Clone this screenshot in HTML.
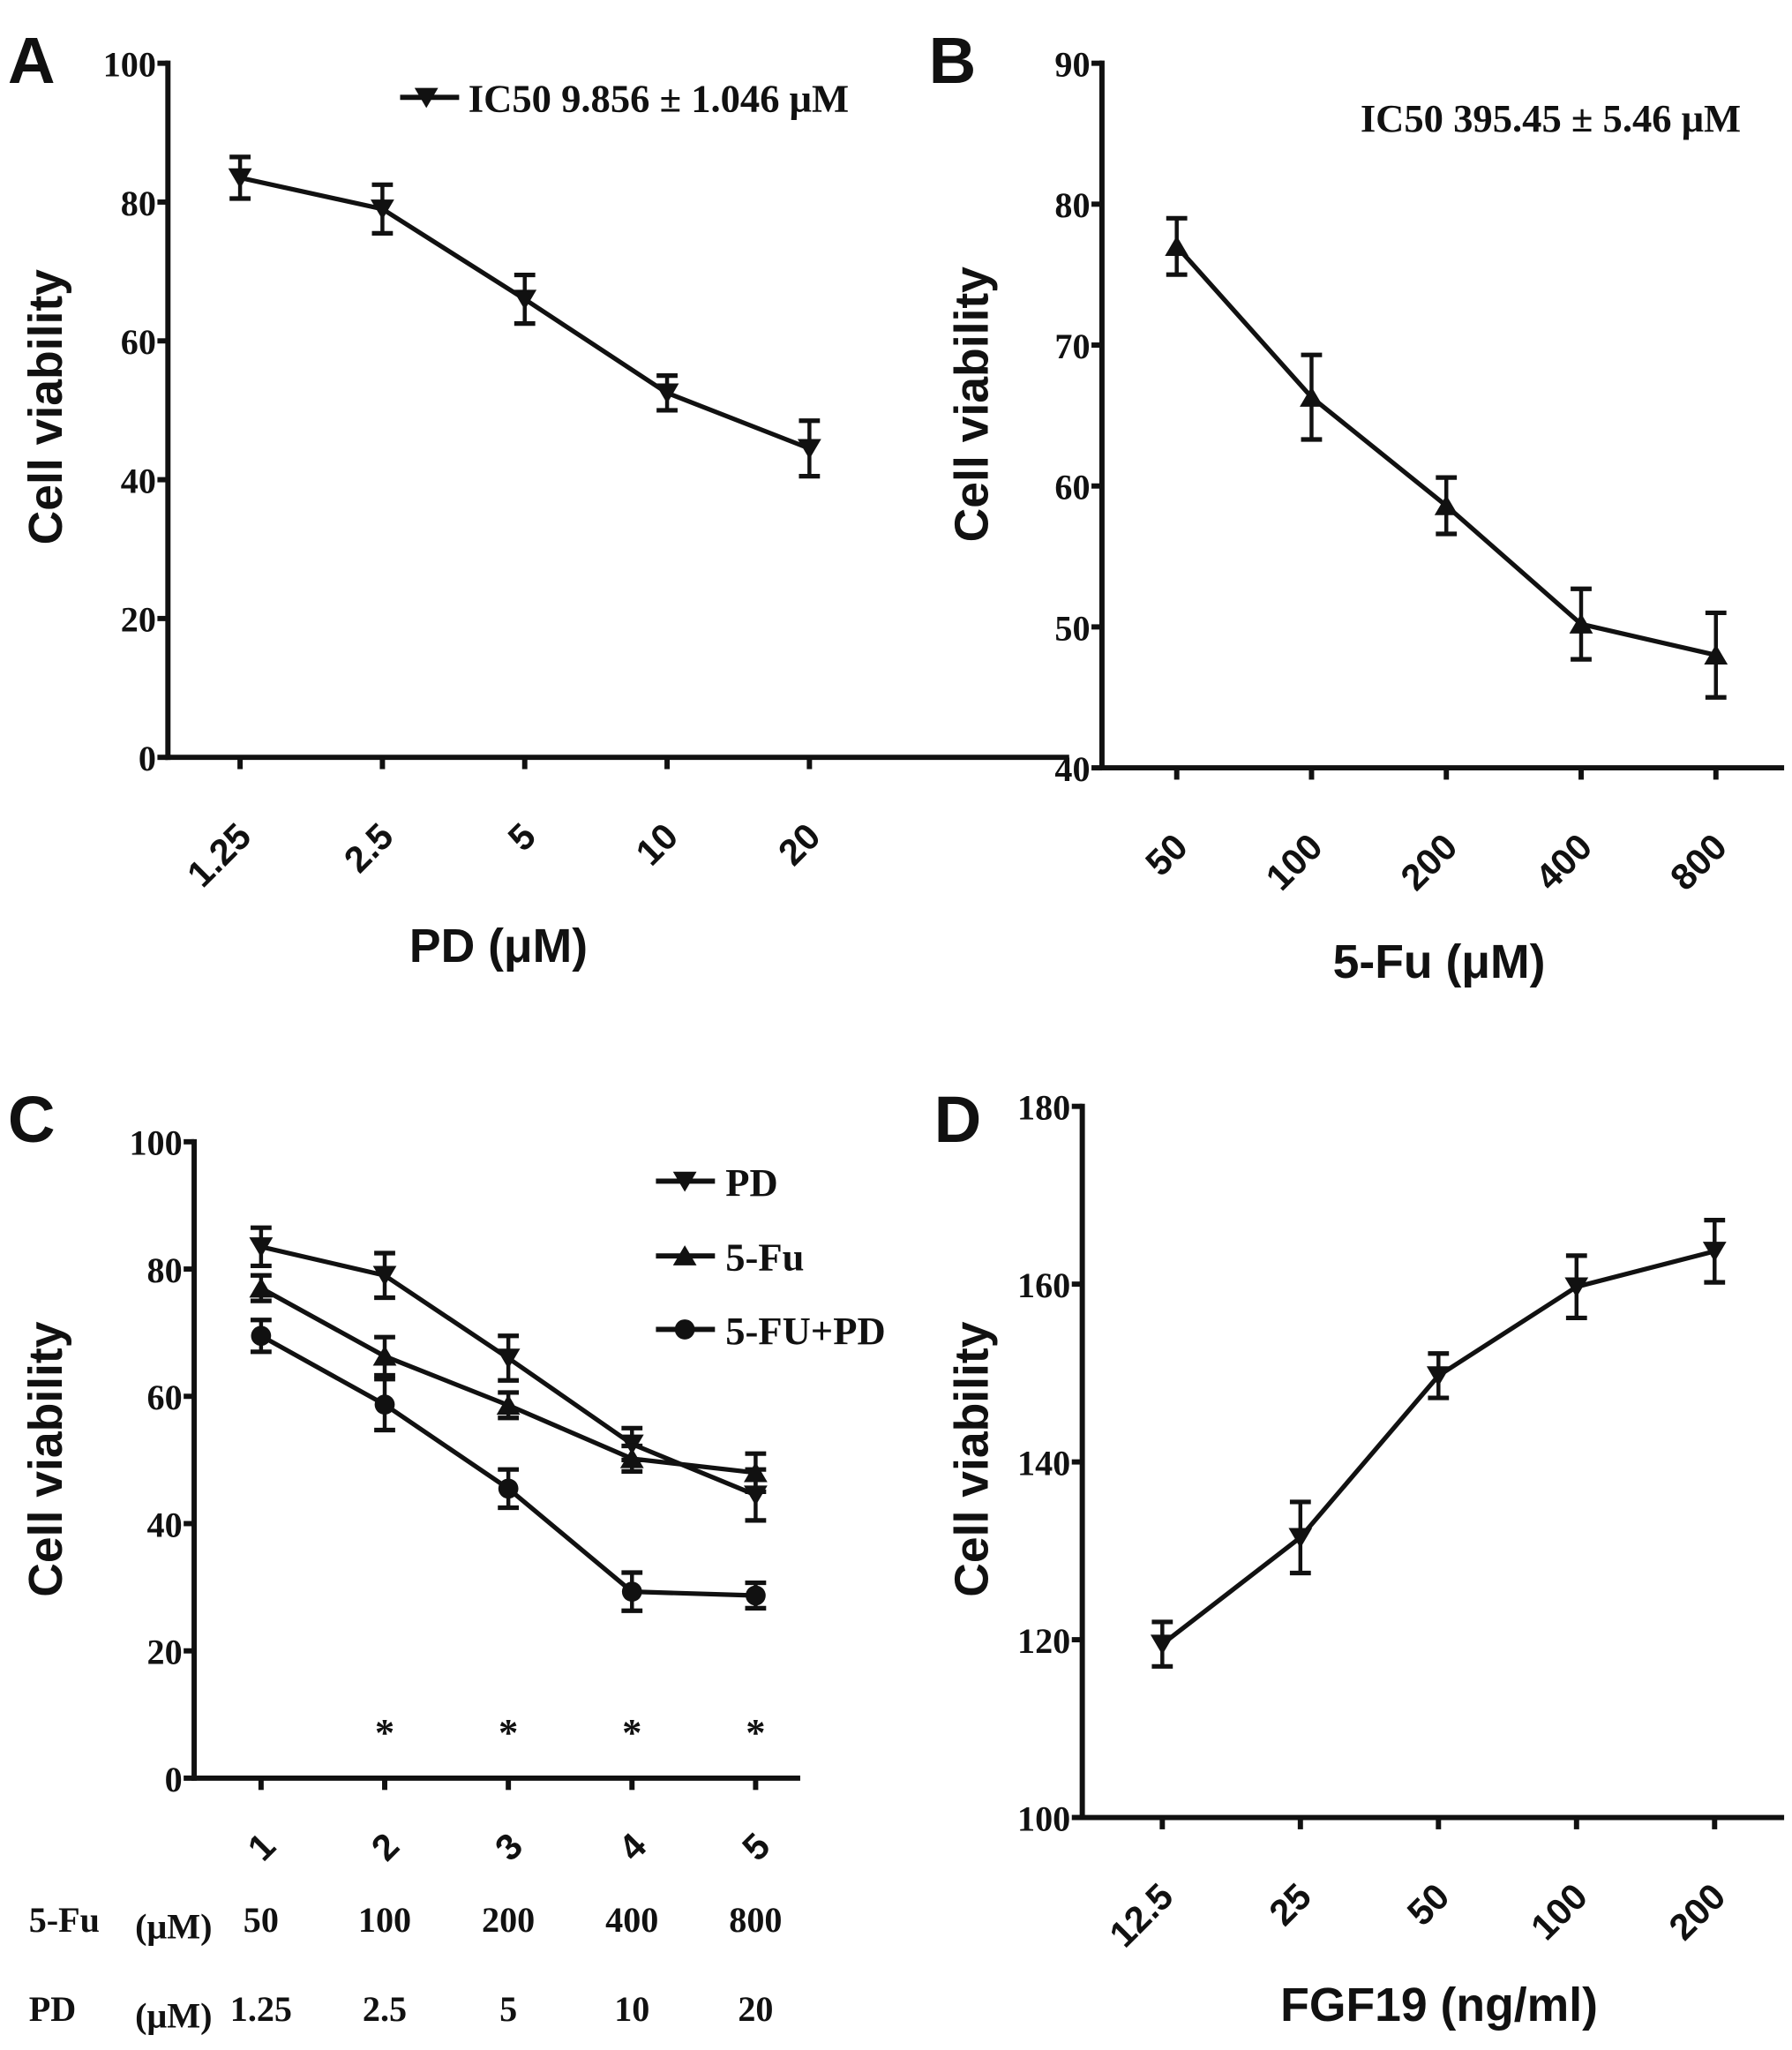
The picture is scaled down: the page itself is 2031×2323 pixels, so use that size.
<!DOCTYPE html>
<html><head><meta charset="utf-8"><style>
html,body{margin:0;padding:0;background:#fff}
svg{display:block}
.tk{font-family:"Liberation Serif",serif;font-weight:bold;font-size:27px;fill:#111}
.rk{font-family:"Liberation Sans",sans-serif;font-weight:bold;font-size:28px;fill:#111}
.tt{font-family:"Liberation Sans",sans-serif;font-weight:bold;font-size:36px;fill:#111}
.pl{font-family:"Liberation Sans",sans-serif;font-weight:bold;font-size:50px;fill:#111}
.lg{font-family:"Liberation Serif",serif;font-weight:bold;font-size:30px;fill:#111}
</style></head><body>
<svg id="fig" width="2031" height="2323" viewBox="0 0 1366 1562" xmlns="http://www.w3.org/2000/svg"></svg>
<script>
const aCats = ["1.25","2.5","5","10","20"];
const aVals = [83.5,79,66,52.5,44.5];
const aErr = [3,3.5,3.5,2.5,4];
const aTicks = [0,20,40,60,80,100];
const bCats = ["50","100","200","400","800"];
const bVals = [77,66.3,58.6,50.2,48];
const bErr = [2,3,2,2.5,3];
const bTicks = [40,50,60,70,80,90];
const cCats = ["1","2","3","4","5"];
const cPD = [83.5,79,66,52.5,44.5];
const cPDErr = [3,3.5,3.5,2.5,4];
const cFu = [77,66.3,58.6,50.2,48];
const cFuErr = [2,3,2,2,3];
const cCombo = [69.5,58.7,45.5,29.3,28.7];
const cComboErr = [2.5,4,3,3,2];
const cTicks = [0,20,40,60,80,100];
const cFuConc = ["50","100","200","400","800"];
const cPDConc = ["1.25","2.5","5","10","20"];
const cSig = [false,true,true,true,true];
const dCats = ["12.5","25","50","100","200"];
const dVals = [119.5,131.5,149.7,159.7,163.7];
const dErr = [2.5,4,2.5,3.5,3.5];
const dTicks = [100,120,140,160,180];

const NS="http://www.w3.org/2000/svg";
const svg=document.getElementById('fig');
function mk(tag,attrs,parent,text){const e=document.createElementNS(NS,tag);for(const k in attrs)e.setAttribute(k,attrs[k]);if(text!==undefined)e.textContent=text;(parent||svg).appendChild(e);return e;}

function marker(g,type,x,y,s){
  let e;
  if(type==='down') e=mk('polygon',{points:`${x-s},${y-s*0.8} ${x+s},${y-s*0.8} ${x},${y+s*0.9}`,fill:'#111'},g);
  else if(type==='up') e=mk('polygon',{points:`${x-s},${y+s*0.8} ${x+s},${y+s*0.8} ${x},${y-s*0.9}`,fill:'#111'},g);
  else e=mk('circle',{cx:x,cy:y,r:s*0.85,fill:'#111'},g);
  return e;
}

function panel(p){
  const g=mk('g',{});
  
  
  const y=v=>p.y0+(v-p.vmin)/(p.vmax-p.vmin)*(p.y1-p.y0);
  const x=i=>p.xs0+i*(p.xs1-p.xs0)/(p.cats.length-1);
  const ya=mk('line',{x1:p.ax,y1:y(p.vmax)-2,x2:p.ax,y2:y(p.vmin)+2,stroke:'#111','stroke-width':4},g);
  
  const xa=mk('line',{x1:p.ax-2,y1:y(p.vmin),x2:p.axEnd,y2:y(p.vmin),stroke:'#111','stroke-width':4},g);
  
  p.ticks.forEach(t=>{
    mk('line',{x1:p.ax-8,y1:y(t),x2:p.ax,y2:y(t),stroke:'#111','stroke-width':4},g);
    const tl=mk('text',{x:p.ax-9,y:y(t)+10,'text-anchor':'end',class:'tk'},g,String(t));
    
  });
  p.cats.forEach((c,i)=>{
    mk('line',{x1:x(i),y1:y(p.vmin),x2:x(i),y2:y(p.vmin)+9,stroke:'#111','stroke-width':4},g);
    if(p.rotLabels){
      const ty=y(p.vmin)+p.labOff;
      const tl=mk('text',{x:x(i)+10,y:ty,'text-anchor':'end',class:'rk',transform:`rotate(-45 ${x(i)+10} ${ty})`},g,c);
      
    }
  });
  p.series.forEach(s=>{
    const pts=s.vals.map((v,i)=>`${x(i)},${y(v)}`).join(' ');
    const ln=mk('polyline',{points:pts,fill:'none',stroke:'#111','stroke-width':3.5},g);
    
    s.vals.forEach((v,i)=>{
      const e=s.err[i];
      mk('line',{x1:x(i),y1:y(v+e),x2:x(i),y2:y(v-e),stroke:'#111','stroke-width':3},g);
      mk('line',{x1:x(i)-8,y1:y(v+e),x2:x(i)+8,y2:y(v+e),stroke:'#111','stroke-width':3.5},g);
      mk('line',{x1:x(i)-8,y1:y(v-e),x2:x(i)+8,y2:y(v-e),stroke:'#111','stroke-width':3.5},g);
      const m=marker(g,s.type,x(i),y(v),9);
      
    });
  });
  return {g,x,y};
}

let A=panel({name:'panel-a',ax:128,axEnd:815,y0:577,y1:48,vmin:0,vmax:100,xs0:183,xs1:617,cats:aCats,ticks:aTicks,rotLabels:true,labOff:62,
  series:[{name:'pd',vals:aVals,err:aErr,type:'down'}]});
let t;
t=mk('text',{x:6,y:63,class:'pl'},A.g,'A');
t=mk('text',{x:47,y:310,class:'tt','text-anchor':'middle',transform:'rotate(-90 47 310)'},A.g,'Cell viability');
t=mk('text',{x:380,y:733,class:'tt','text-anchor':'middle'},A.g,'PD (μM)');
mk('line',{x1:305,y1:74,x2:350,y2:74,stroke:'#111','stroke-width':4},A.g);
marker(A.g,'down',325,74,9);
t=mk('text',{x:357,y:85,class:'lg'},A.g,'IC50 9.856 ± 1.046 μM');

let B=panel({name:'panel-b',ax:840,axEnd:1360,y0:585,y1:48,vmin:40,vmax:90,xs0:897,xs1:1308,cats:bCats,ticks:bTicks,rotLabels:true,labOff:62,
  series:[{name:'fu',vals:bVals,err:bErr,type:'up'}]});
t=mk('text',{x:708,y:63,class:'pl'},B.g,'B');
t=mk('text',{x:753,y:308,class:'tt','text-anchor':'middle',transform:'rotate(-90 753 308)'},B.g,'Cell viability');
t=mk('text',{x:1097,y:745,class:'tt','text-anchor':'middle'},B.g,'5-Fu (μM)');
t=mk('text',{x:1037,y:100,class:'lg'},B.g,'IC50 395.45 ± 5.46 μM');

let C=panel({name:'panel-c',ax:148,axEnd:610,y0:1355,y1:870,vmin:0,vmax:100,xs0:199,xs1:576,cats:cCats,ticks:cTicks,rotLabels:false,
  series:[{name:'pd',vals:cPD,err:cPDErr,type:'down'},{name:'fu',vals:cFu,err:cFuErr,type:'up'},{name:'combo',vals:cCombo,err:cComboErr,type:'circle'}]});
t=mk('text',{x:6,y:870,class:'pl'},C.g,'C');
t=mk('text',{x:47,y:1112,class:'tt','text-anchor':'middle',transform:'rotate(-90 47 1112)'},C.g,'Cell viability');
cCats.forEach((c,i)=>{
  const xx=C.x(i);
  t=mk('text',{x:xx,y:1417,class:'rk','text-anchor':'middle',transform:`rotate(-45 ${xx} 1407)`},C.g,c);
  t=mk('text',{x:xx,y:1472,class:'tk','text-anchor':'middle'},C.g,cFuConc[i]);
  t=mk('text',{x:xx,y:1540,class:'tk','text-anchor':'middle'},C.g,cPDConc[i]);
  if(cSig[i]){t=mk('text',{x:xx,y:1330,class:'lg','text-anchor':'middle','font-size':'54'},C.g,'*');}
});
t=mk('text',{x:22,y:1472,class:'tk'},C.g,'5-Fu');
t=mk('text',{x:103,y:1477,class:'tk'},C.g,'(μM)');
t=mk('text',{x:22,y:1540,class:'tk'},C.g,'PD');
t=mk('text',{x:103,y:1545,class:'tk'},C.g,'(μM)');
[['PD','down',900],['5-Fu','up',957],['5-FU+PD','circle',1013]].forEach(([lab,ty,yy])=>{
  mk('line',{x1:500,y1:yy,x2:545,y2:yy,stroke:'#111','stroke-width':4},C.g);
  marker(C.g,ty,522,yy,9);
  t=mk('text',{x:553,y:yy+11,class:'lg'},C.g,lab);
});

let D=panel({name:'panel-d',ax:825,axEnd:1360,y0:1385,y1:843,vmin:100,vmax:180,xs0:886,xs1:1307,cats:dCats,ticks:dTicks,rotLabels:true,labOff:62,
  series:[{name:'fgf19',vals:dVals,err:dErr,type:'down'}]});
t=mk('text',{x:712,y:870,class:'pl'},D.g,'D');
t=mk('text',{x:753,y:1112,class:'tt','text-anchor':'middle',transform:'rotate(-90 753 1112)'},D.g,'Cell viability');
t=mk('text',{x:1097,y:1540,class:'tt','text-anchor':'middle'},D.g,'FGF19 (ng/ml)');
</script>
</body></html>
